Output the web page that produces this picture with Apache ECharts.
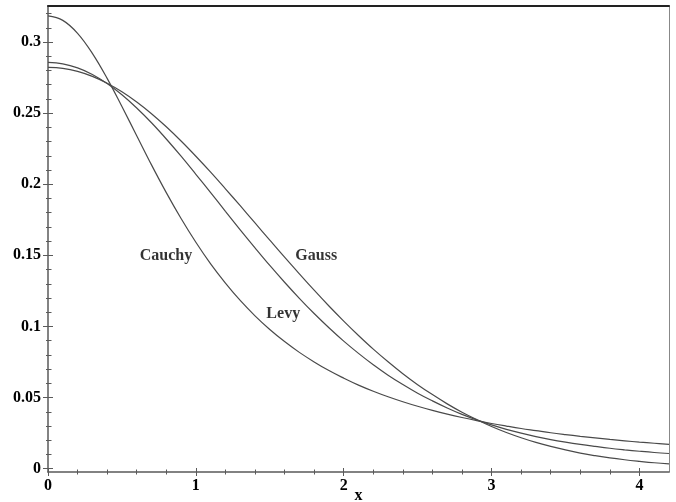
<!DOCTYPE html>
<html><head><meta charset="utf-8">
<script src="https://cdn.jsdelivr.net/npm/echarts@6/dist/echarts.min.js"></script>
<style>html,body{margin:0;padding:0;background:#fff}#c{width:676px;height:502px}</style>
</head><body><div id="c"></div>
<script>
const xValues = [0,0.1,0.2,0.3,0.4,0.5,0.6,0.7,0.8,0.9,1.0,1.1,1.2,1.3,1.4,1.5,1.6,1.7,1.8,1.9,2.0,2.1,2.2,2.3,2.4,2.5,2.6,2.7,2.8,2.9,3.0,3.1,3.2,3.3,3.4,3.5,3.6,3.7,3.8,3.9,4.0,4.1,4.2];
const cauchy = [0.3183,0.3152,0.3061,0.2920,0.2744,0.2546,0.2341,0.2136,0.1941,0.1759,0.1592,0.1440,0.1305,0.1183,0.1075,0.0979,0.0894,0.0818,0.0751,0.0690,0.0637,0.0588,0.0545,0.0506,0.0471,0.0439,0.0410,0.0384,0.0360,0.0338,0.0318,0.0300,0.0283,0.0268,0.0253,0.0240,0.0228,0.0217,0.0206,0.0196,0.0187,0.0179,0.0171];
const levy = [0.2856,0.2846,0.2818,0.2772,0.2708,0.2629,0.2536,0.2432,0.2318,0.2197,0.2070,0.1941,0.1810,0.1680,0.1553,0.1429,0.1311,0.1198,0.1091,0.0991,0.0897,0.0811,0.0731,0.0658,0.0592,0.0531,0.0477,0.0427,0.0382,0.0343,0.0308,0.0277,0.0250,0.0226,0.0205,0.0187,0.0171,0.0157,0.0144,0.0133,0.0123,0.0114,0.0107];
const gauss = [0.2821,0.2814,0.2793,0.2758,0.2710,0.2650,0.2578,0.2496,0.2404,0.2304,0.2197,0.2085,0.1968,0.1849,0.1728,0.1607,0.1487,0.1370,0.1255,0.1144,0.1038,0.0937,0.0841,0.0752,0.0668,0.0591,0.0521,0.0456,0.0397,0.0345,0.0297,0.0255,0.0218,0.0185,0.0157,0.0132,0.0110,0.0092,0.0076,0.0063,0.0052,0.0042,0.0034];
const xTickLabels = [0,1,2,3,4];
const xMinorTicks = [0.2,0.4,0.6,0.8,1.2,1.4,1.6,1.8,2.2,2.4,2.6,2.8,3.2,3.4,3.6,3.8];
const yTickLabels = [0,0.05,0.1,0.15,0.2,0.25,0.3];
const yMinorTicks = [0.01,0.02,0.03,0.04,0.06,0.07,0.08,0.09,0.11,0.12,0.13,0.14,0.16,0.17,0.18,0.19,0.21,0.22,0.23,0.24,0.26,0.27,0.28,0.29,0.31,0.32];
const curveLabels = [
  {text:'Cauchy', x:0.798, y:0.1495},
  {text:'Gauss', x:1.814, y:0.1495},
  {text:'Levy', x:1.591, y:0.1091}
];
const X_MIN = 0, X_MAX = 4.2, Y_MIN = -0.0023, Y_MAX = 0.3253;

const font = {fontFamily:'Liberation Serif', fontWeight:'bold', fontSize:16, color:'#000'};
const axisColor = '#5a5a5a';

function xAx(o){
  return Object.assign({type:'value', min:X_MIN, max:X_MAX, position:'bottom',
    axisLine:{show:false, onZero:false}, axisLabel:{show:false}, axisTick:{show:false},
    splitLine:{show:false}}, o);
}
function yAx(o){
  return Object.assign({type:'value', min:Y_MIN, max:Y_MAX, position:'left',
    axisLine:{show:false, onZero:false}, axisLabel:{show:false}, axisTick:{show:false},
    splitLine:{show:false}}, o);
}
const tickStyle = {color:axisColor, width:1};

const chart = echarts.init(document.getElementById('c'), null, {renderer:'canvas'});
chart.setOption({
  animation:false,
  backgroundColor:'#fff',
  grid:{left:48, right:7, top:6, bottom:30, containLabel:false, outerBoundsMode:'none'},
  xAxis:[
    xAx({axisLine:{show:true, onZero:false, lineStyle:{color:axisColor, width:1.5}},
      axisLabel:Object.assign({show:true, customValues:xTickLabels, margin:6}, font),
      axisTick:{show:true, customValues:xTickLabels, length:4, lineStyle:tickStyle},
      name:'x', nameLocation:'middle', nameGap:16, nameMoveOverlap:false,
      nameTextStyle:Object.assign({verticalAlign:'top'}, font)}),
    xAx({axisTick:{show:true, inside:true, customValues:xTickLabels, length:4, lineStyle:tickStyle}}),
    xAx({axisTick:{show:true, customValues:xMinorTicks, length:2.5, lineStyle:tickStyle}}),
    xAx({axisTick:{show:true, inside:true, customValues:xMinorTicks, length:2.5, lineStyle:tickStyle}}),
    xAx({position:'top', axisLine:{show:true, onZero:false, lineStyle:{color:'#222', width:2}}})
  ],
  yAxis:[
    yAx({axisLine:{show:true, onZero:false, lineStyle:{color:axisColor, width:1.5}},
      axisLabel:Object.assign({show:true, customValues:yTickLabels, margin:7}, font),
      axisTick:{show:true, customValues:yTickLabels, length:5, lineStyle:tickStyle}}),
    yAx({axisTick:{show:true, inside:true, customValues:yTickLabels, length:5, lineStyle:tickStyle}}),
    yAx({axisTick:{show:true, customValues:yMinorTicks, length:2, lineStyle:tickStyle}}),
    yAx({axisTick:{show:true, inside:true, customValues:yMinorTicks, length:3.5, lineStyle:tickStyle}}),
    yAx({position:'right', axisLine:{show:true, onZero:false, lineStyle:{color:'#888', width:1}}})
  ],
  series:[
    {name:'Cauchy', data:cauchy}, {name:'Levy', data:levy}, {name:'Gauss', data:gauss}
  ].map(s => ({
    type:'line', name:s.name, xAxisIndex:0, yAxisIndex:0,
    data:xValues.map((x,i)=>[x, s.data[i]]),
    showSymbol:false, symbol:'none', smooth:0.4,
    lineStyle:{color:'#4a4a4a', width:1.2}
  })).concat([{
    type:'scatter', xAxisIndex:0, yAxisIndex:0, symbolSize:1,
    itemStyle:{color:'rgba(0,0,0,0)'},
    data:curveLabels.map(l=>({name:l.text, value:[l.x, l.y]})),
    label:Object.assign({show:true, position:'inside', formatter:'{b}'}, font)
  }])
});
</script></body></html>
